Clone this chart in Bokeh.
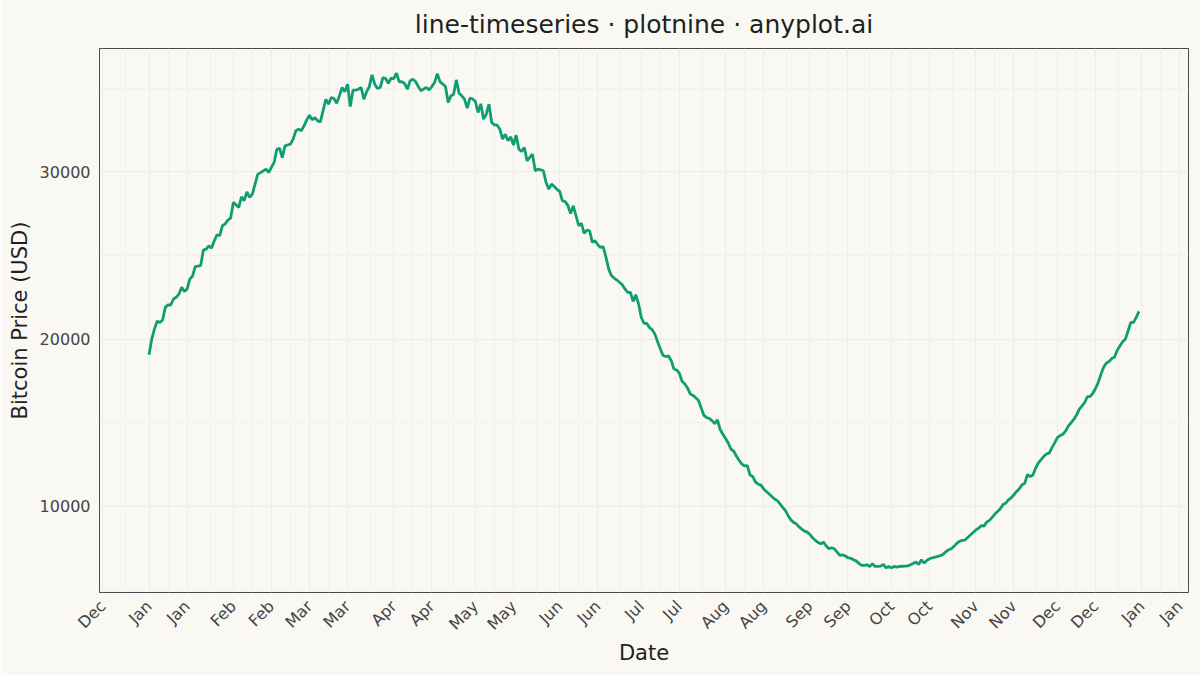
import pandas as pd
from bokeh.plotting import figure
from bokeh.models import FixedTicker, DatetimeTickFormatter, Range1d
from bokeh.embed import file_html
from bokeh.resources import INLINE
from math import pi

# daily closing price (Jan 1 -> Dec 31)
price = [
    19070, 20000, 20600, 21064, 21005, 21144, 21900, 22050, 22040, 22400,
    22500, 22696, 23094, 22855, 22990, 23590, 23770, 24330, 24360, 24400,
    25320, 25380, 25580, 25440, 25880, 26240, 26180, 26780, 26880, 27115,
    27230, 28170, 28030, 27870, 28510, 28270, 28800, 28470, 28670, 29260,
    29860, 29950, 30050, 30160, 29960, 30260, 30560, 31350, 31410, 30850,
    31550, 31600, 31650, 31950, 32450, 32550, 32450, 32746, 33100, 33383,
    33100, 33243, 33044, 32985, 33640, 34338, 34040, 34440, 34380, 34100,
    34537, 35035, 34776, 35233, 33900, 34875, 34875, 34935, 35035, 34338,
    34776, 35094, 35790, 35233, 34975, 35035, 35632, 35570, 35293, 35590,
    35570, 35890, 35373, 35380, 35273, 34935, 35433, 35532, 35393, 35100,
    34836, 34950, 35035, 34895, 35094, 35333, 35870, 35373, 35250, 35094,
    34140, 34537, 34637, 35492, 34696, 34537, 34338, 33800, 34398, 34350,
    34200, 33543, 34060, 33143, 33442, 34039, 32945, 32805, 32785, 32547,
    31950, 32248, 31850, 32089, 31591, 32188, 31352, 31213, 31452, 30656,
    30855, 31054, 30059, 30159, 30119, 30059, 29362, 28964, 29263, 29120,
    28950, 28825, 28268, 28220, 27990, 27512, 27970, 27373, 26776, 26915,
    26318, 26517, 26477, 25780, 25880, 25641, 25482, 25522, 24900, 24200,
    23800, 23651, 23532, 23400, 23250, 23000, 22796, 22800, 22258, 22650,
    22099, 21300, 20950, 20945, 20700, 20560, 20300, 19850, 19420, 19020,
    18960, 18995, 18716, 18218, 18159, 17960, 17482, 17323, 17084, 16726,
    16640, 16500, 16350, 15900, 15450, 15320, 15260, 15130, 14950, 15174,
    14600, 14320, 14060, 13780, 13420, 13303, 13000, 12750, 12530, 12420,
    12448, 11880, 11791, 11450, 11330, 11280, 11050, 10900, 10750, 10600,
    10450, 10350, 10150, 9950, 9750, 9450, 9200, 9050, 8965, 8780,
    8650, 8530, 8468, 8328, 8120, 7980, 7850, 7771, 7871, 7640,
    7472, 7532, 7472, 7274, 7075, 7114, 7040, 6935, 6915, 6816,
    6750, 6600, 6478, 6478, 6517, 6418, 6577, 6418, 6418, 6438,
    6537, 6338, 6418, 6338, 6418, 6378, 6418, 6430, 6438, 6450,
    6517, 6600, 6677, 6537, 6816, 6617, 6776, 6880, 6935, 6975,
    7015, 7060, 7150, 7300, 7413, 7472, 7620, 7800, 7920, 7970,
    7990, 8150, 8300, 8450, 8600, 8700, 8850, 8826, 9065, 9170,
    9350, 9550, 9700, 9861, 10120, 10199, 10400, 10520, 10700, 10900,
    11055, 11300, 11393, 11910, 11791, 11880, 12300, 12600, 12800, 13000,
    13140, 13184, 13520, 13800, 14120, 14239, 14320, 14500, 14800, 15000,
    15200, 15450, 15800, 16000, 16200, 16560, 16567, 16750, 17050, 17400,
    17900, 18318, 18570, 18660, 18855, 18915, 19330, 19600, 19850, 20010,
    20500, 21005, 21005, 21300, 21661,
]
dates = pd.date_range("2023-01-01", periods=len(price), freq="D")

y_ticks = [10000, 20000, 30000]
y_minor = [5000, 15000, 25000, 35000]

BG = "#FAF8F2"
INK = "#1f1f1f"

# x range padded like ggplot (5% each side)
x0, x1 = dates[0], dates[-1]
pad = (x1 - x0) * 0.05
ymin, ymax = min(price), max(price)
ypad = (ymax - ymin) * 0.05

p = figure(width=1200, height=675, x_axis_type="datetime",
           x_range=Range1d(x0 - pad, x1 + pad),
           y_range=Range1d(ymin - ypad, ymax + ypad),
           title="line-timeseries · plotnine · anyplot.ai",
           output_backend="svg", toolbar_location=None,
           min_border_left=99, min_border_right=12,
           min_border_top=48, min_border_bottom=83)

p.background_fill_color = BG
p.border_fill_color = BG
p.outline_line_color = "#4a4a4a"
p.outline_line_width = 1

p.title.text_font = "DejaVu Sans"
p.title.text_font_size = "25px"
p.title.text_font_style = "normal"
p.title.text_color = INK
p.title.align = "center"
p.title.vertical_align = "top"
p.title.standoff = 15

p.line(dates, price, line_color="#0F9D74", line_width=2.8)

# semi-monthly breaks (1st and 15th), minor halfway between
major = pd.to_datetime(["2022-12-15"] + [f"2023-{m:02d}-{d:02d}" for m in range(1, 13) for d in (1, 15)]
                       + ["2024-01-01", "2024-01-15"])
major_ms = [t.value / 1e6 for t in major]
minor_ms = [(a + b) / 2 for a, b in zip(major_ms[:-1], major_ms[1:])]
p.xaxis.ticker = FixedTicker(ticks=major_ms, minor_ticks=minor_ms)
p.xaxis.formatter = DatetimeTickFormatter(days="%b", months="%b", years="%b")
p.yaxis.ticker = FixedTicker(ticks=y_ticks, minor_ticks=y_minor)
p.yaxis.formatter.use_scientific = False

for ax in (p.xaxis, p.yaxis):
    ax.axis_line_color = None
    ax.major_tick_line_color = None
    ax.minor_tick_line_color = None
    ax.major_label_text_font = "DejaVu Sans"
    ax.major_label_text_font_size = "16px"
    ax.major_label_text_color = "#444444"
    ax.axis_label_text_font = "DejaVu Sans"
    ax.axis_label_text_font_size = "21px"
    ax.axis_label_text_font_style = "normal"
    ax.axis_label_text_color = INK

p.xaxis.major_label_orientation = pi / 4
p.xaxis.major_label_standoff = 5
p.yaxis.major_label_standoff = 3
p.xaxis.axis_label = "Date"
p.yaxis.axis_label = "Bitcoin Price (USD)"
p.xaxis.axis_label_standoff = -2
p.yaxis.axis_label_standoff = 5

p.xgrid.grid_line_color = "#EEECE5"
p.ygrid.grid_line_color = "#EEECE5"
p.xgrid.minor_grid_line_color = "#F3F1EA"
p.ygrid.minor_grid_line_color = "#F3F1EA"

open("out.html", "w").write(file_html(p, INLINE))
